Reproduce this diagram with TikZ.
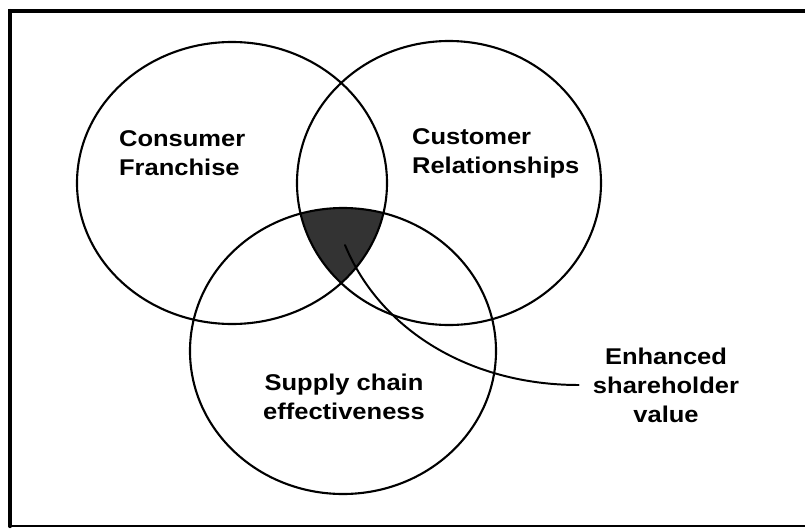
\documentclass[tikz,border=0pt]{standalone}
\usepackage{fontspec}
\setmainfont{Liberation Sans}[FakeStretch=1.12]
\usepackage{tikz}

\begin{document}
\begin{tikzpicture}
  [x=0.025cm,y=-0.025cm,line cap=round,
   % Styles
   ring/.style={line width=1.5pt},
   frame line/.style={line width=2.2pt},
   label text/.style={font=\fontsize{16.2}{20.6}\selectfont\bfseries,inner sep=2pt},
   pointer/.style={line width=1.4pt}]

  % Local definitions
  \def\consumer{(232,183) ellipse [x radius=155,y radius=141]}
  \def\customer{(449,183) ellipse [x radius=152,y radius=142]}
  \def\supply{(343,351) ellipse [x radius=153,y radius=143]}

  \useasboundingbox (0,0) rectangle (805,528);

  % Frame
  \draw[frame line] (10,526) -- (10,11) -- (806,11);
  \draw[line width=1.2pt] (10,526) -- (806,526);
  \draw[line width=3pt] (10,526) -- (10,11);

  % The common region
  \begin{scope}
    \clip \consumer;
    \clip \customer;
    \fill[black!80] \supply;
  \end{scope}

  % The graphic
  \draw[ring] \consumer;
  \draw[ring] \customer;
  \draw[ring] \supply;

  \node[label text,anchor=west,align=left] (franchise) at (116,153)
    {Consumer\\Franchise};
  \node[label text,anchor=west,align=left] (relations) at (409,153)
    {Customer\\Relationships};
  \node[label text,align=center] (chain) at (344,397)
    {Supply chain\\effectiveness};
  \node[label text,align=center] (value) at (666,385)
    {Enhanced\\shareholder\\value};

  \coordinate (core) at (345,245);

  \draw[pointer] ([xshift=-8]value.west) .. controls (470,385) and (380,330) .. (core);
\end{tikzpicture}
\end{document}
